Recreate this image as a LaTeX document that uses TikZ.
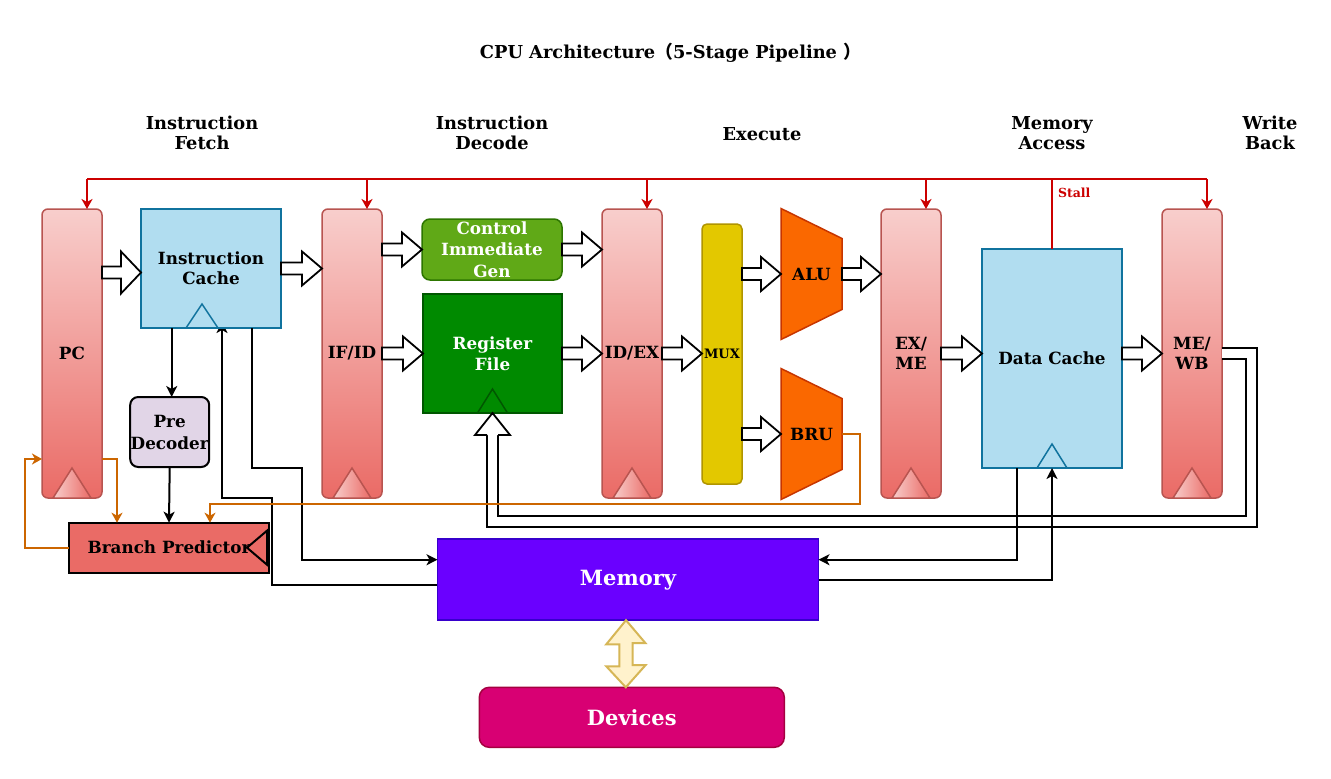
\documentclass[tikz,border=0pt]{standalone}
\usepackage{fontspec}
\setmainfont{DejaVu Serif}
\newfontfamily\cjk{Noto Sans CJK SC}
\usetikzlibrary{arrows.meta,calc,backgrounds}
\definecolor{regtop}{HTML}{F8CECC}
\definecolor{regbot}{HTML}{EA6B66}
\definecolor{regline}{HTML}{B85450}
\definecolor{cachefill}{HTML}{B1DDF0}
\definecolor{cacheline}{HTML}{10739E}
\definecolor{cigfill}{HTML}{60A917}
\definecolor{cigline}{HTML}{2D7600}
\definecolor{rffill}{HTML}{008A00}
\definecolor{rfline}{HTML}{005700}
\definecolor{muxfill}{HTML}{E3C800}
\definecolor{muxline}{HTML}{B09500}
\definecolor{alufill}{HTML}{FA6800}
\definecolor{aluline}{HTML}{C73500}
\definecolor{pdfill}{HTML}{E1D5E7}
\definecolor{bpfill}{HTML}{EA6B66}
\definecolor{memfill}{HTML}{6A00FF}
\definecolor{memline}{HTML}{3700CC}
\definecolor{devfill}{HTML}{D80073}
\definecolor{devline}{HTML}{A50040}
\definecolor{bifill}{HTML}{FFF2CC}
\definecolor{biline}{HTML}{D6B656}
\definecolor{stallred}{HTML}{CC0000}
\definecolor{brorange}{HTML}{CC6600}
\newcommand\harrow[3][17]{\draw[barrow] let \p1=(#2), \p2=(#3) in
  (\x1,\y1+6pt) -- (\x2-20pt,\y1+6pt) -- (\x2-20pt,\y1+#1pt) -- (\x2,\y1)
  -- (\x2-20pt,\y1-#1pt) -- (\x2-20pt,\y1-6pt) -- (\x1,\y1-6pt) -- cycle;}
\tikzset{
  base/.style={font=\fontsize{16.8}{20}\selectfont\bfseries, align=center, inner sep=0pt, outer sep=0pt},
  reg/.style={base, draw=regline, line width=1.5pt, rounded corners=6pt, top color=regtop, bottom color=regbot, minimum width=60pt, minimum height=289pt},
  regtri/.style={draw=regline, line width=1.5pt, left color=regtop, right color=regbot},
  cachebox/.style={base, draw=cacheline, fill=cachefill, line width=1.8pt},
  cachetri/.style={draw=cacheline, line width=1.5pt},
  cigbox/.style={base, draw=cigline, fill=cigfill, line width=1.5pt, rounded corners=8pt, text=white, font=\fontsize{16.8}{21.5}\selectfont\bfseries},
  rfbox/.style={base, draw=rfline, fill=rffill, line width=1.5pt, text=white, font=\fontsize{16.8}{21.5}\selectfont\bfseries},
  rftri/.style={draw=rfline, line width=1.5pt},
  muxbox/.style={base, draw=muxline, fill=muxfill, line width=1.5pt, rounded corners=5pt, font=\fontsize{13}{15}\selectfont\bfseries},
  alubox/.style={base},
  alushape/.style={draw=aluline, fill=alufill, line width=1.5pt},
  pdbox/.style={base, draw=black, fill=pdfill, line width=2pt, rounded corners=8pt, font=\fontsize{16.8}{22}\selectfont\bfseries},
  bpbox/.style={base, draw=black, fill=bpfill, line width=2pt},
  membox/.style={base, draw=memline, fill=memfill, line width=1.5pt, text=white, font=\fontsize{21}{24}\selectfont\bfseries},
  devbox/.style={base, draw=devline, fill=devfill, line width=1.5pt, rounded corners=10pt, text=white, font=\fontsize{21}{24}\selectfont\bfseries},
  barrow/.style={draw=black, fill=white, line width=1.8pt, line join=miter},
  biarrow/.style={draw=biline, fill=bifill, line width=2pt, line join=miter},
  blk/.style={draw=black, line width=2pt, arrows={-Stealth[length=11pt,width=11pt,inset=3pt]}},
  org/.style={draw=brorange, line width=2pt, arrows={-Stealth[length=10pt,width=11pt,inset=3pt]}},
  stall/.style={draw=stallred, line width=2pt},
  stallarr/.style={stall, arrows={-Stealth[length=10pt,width=11pt,inset=3pt]}},
  heading/.style={base, font=\fontsize{17.8}{20}\selectfont\bfseries},
  wb/.style={draw=black, line width=2pt, double=white, double distance=9pt, line join=miter}
}
\begin{document}
\begin{tikzpicture}[x=1pt,y=-1pt]
\useasboundingbox (0,0) rectangle (1331,779);

% title and headings
\node[heading, anchor=base] (title) at (670.5,58) {CPU Architecture{\cjk （}5-Stage Pipeline {\cjk ）}};
\node[heading] (hif) at (202,133) {Instruction\\Fetch};
\node[heading] (hid) at (492,133) {Instruction\\Decode};
\node[heading] (hex) at (762,134) {Execute};
\node[heading] (hma) at (1052,133) {Memory\\Access};
\node[heading] (hwb) at (1270,133) {Write\\Back};

% pipeline registers
\node[reg] (pc) at (72,353.5) {PC};
\node[reg] (ifid) at (352,353.5) {IF/ID};
\node[reg] (idex) at (632,353.5) {ID/EX};
\node[reg] (exme) at (911,353.5) {EX/\\ME};
\node[reg] (mewb) at (1192,353.5) {ME/\\WB};
\foreach \r in {pc,ifid,idex,exme,mewb}{
  \draw[regtri] ($(\r.south)+(-19,0)$) -- ($(\r.south)+(0,-30)$) -- ($(\r.south)+(19,0)$) -- cycle;
}

% fetch
\node[cachebox, minimum width=140pt, minimum height=119pt] (ic) at (211,268.5) {Instruction\\Cache};
\draw[cachetri] ($(ic.south)+(-25,0)$) -- ($(ic.south)+(-9,-24)$) -- ($(ic.south)+(7,0)$);
\node[pdbox, minimum width=79pt, minimum height=70pt] (pd) at (169.7,432) {Pre\\Decoder};
\node[bpbox, minimum width=200pt, minimum height=50pt] (bp) at (169,547.7) {Branch Predictor};
\draw[black, line width=2pt, fill=bpfill] ($(bp.east)+(-2,-17)$) -- ($(bp.east)+(-22,0)$) -- ($(bp.east)+(-2,17)$) -- cycle;

% decode
\node[cigbox, minimum width=140pt, minimum height=61pt] (cig) at (492,249.5) {Control\\Immediate\\Gen};
\node[rfbox, minimum width=139pt, minimum height=119pt] (rf) at (492.5,353.5) {Register\\File};
\draw[rftri] ($(rf.south)+(-15,0)$) -- ($(rf.south)+(0,-24)$) -- ($(rf.south)+(15,0)$);

% execute
\node[muxbox, minimum width=40pt, minimum height=260pt] (mux) at (722,354) {MUX};
\node[alubox, minimum width=61pt, minimum height=131pt] (alu) at (811.5,274) {};
\draw[alushape] (alu.north west) -- ($(alu.north east)+(0,30)$) -- ($(alu.south east)+(0,-30)$) -- (alu.south west) -- cycle;
\node[base] at (alu.center) {ALU};
\node[alubox, minimum width=61pt, minimum height=131pt] (bru) at (811.5,434) {};
\draw[alushape] (bru.north west) -- ($(bru.north east)+(0,30)$) -- ($(bru.south east)+(0,-30)$) -- (bru.south west) -- cycle;
\node[base] at (bru.center) {BRU};

% memory access
\node[cachebox, minimum width=140pt, minimum height=219pt] (dc) at (1052,358.5) {Data Cache};
\draw[cachetri] ($(dc.south)+(-15,0)$) -- ($(dc.south)+(0,-24)$) -- ($(dc.south)+(15,0)$);

% memory and devices
\node[membox, minimum width=381pt, minimum height=81pt] (mem) at (628,579.7) {Memory};
\node[devbox, minimum width=305pt, minimum height=60pt] (dev) at (631.8,717.3) {Devices};

% block arrows
\harrow[21]{$(pc.east|-ic.west)+(0,4)$}{ic.west}
\harrow{ic.east}{ifid.west}
\harrow{ifid.east|-cig.west}{cig.west}
\harrow{ifid.east|-rf.west}{rf.west}
\harrow{cig.east}{idex.west}
\harrow{rf.east}{idex.west}
\harrow{idex.east}{mux.west}
\harrow{mux.east|-alu.west}{alu.west}
\harrow{mux.east|-bru.west}{bru.west}
\harrow{alu.east}{exme.west}
\harrow{exme.east}{dc.west}
\harrow{dc.east|-mewb.west}{mewb.west}

% memory <-> devices
\draw[biarrow] ($(mem.south)+(-2,0)$) -- ++(19.5,23) -- ++(-13,0) -- ++(0,22) -- ++(13,0)
  -- ($(dev.north)+(-6,0)$) -- ++(-19.5,-21) -- ++(13,0) -- ++(0,-22) -- ++(-13,0) -- cycle;

% write back path
\draw[wb] (mewb.east) -- (1251.7,353.5) -- (1251.7,521.7) -- (492.5,521.7) -- ($(rf.south)+(0,22)$);
\draw[barrow] ($(rf.south)+(-5.5,22)$) -- ($(rf.south)+(-17.5,22)$) -- (rf.south) -- ($(rf.south)+(17.5,22)$) -- ($(rf.south)+(5.5,22)$);

% black connectors
\draw[blk] ([xshift=2pt]pd.north |- ic.south) -- ([xshift=2pt]pd.north);
\draw[blk] (pd.south) -- (bp.north);
\draw[blk] ($(ic.south west)+(111,0)$) |- (302,468) |- ($(mem.west)+(0,-20)$);
\begin{scope}[on background layer]
  \fill[white] (0,0) rectangle (1331,779);
  \draw[blk] ($(mem.west)+(0,5)$) -| (272,498) -| ($(ic.south west)+(81,-6)$);
\end{scope}
\draw[blk] ($(dc.south west)+(35,0)$) |- ($(mem.east)+(0,-20)$);
\draw[blk] (mem.east) -| (dc.south);

% orange branch connectors
\draw[org] ($(pc.south east)+(0,-39)$) -| ($(bp.north west)+(48,0)$);
\draw[org] (bp.west) -| ($(pc.south west)+(-17,-39)$) -- ($(pc.south west)+(0,-39)$);
\draw[org] (bru.east) -| (860,503.5) -| ($(bp.north west)+(141,0)$);

% stall bus
\coordinate (bus) at (0,179);
\draw[stall] ([xshift=15pt]pc.north |- bus) -- ([xshift=15pt]mewb.north |- bus);
\foreach \r in {pc,ifid,idex,exme,mewb}{
  \draw[stallarr] ([xshift=15pt]\r.north |- bus) -- ([xshift=15pt]\r.north);
}
\draw[stall] (dc.north) -- (dc.north |- bus);
\node[base, anchor=west, text=stallred, font=\fontsize{12.5}{14}\selectfont\bfseries] (stalllbl) at (1058,193) {Stall};
\end{tikzpicture}
\end{document}
